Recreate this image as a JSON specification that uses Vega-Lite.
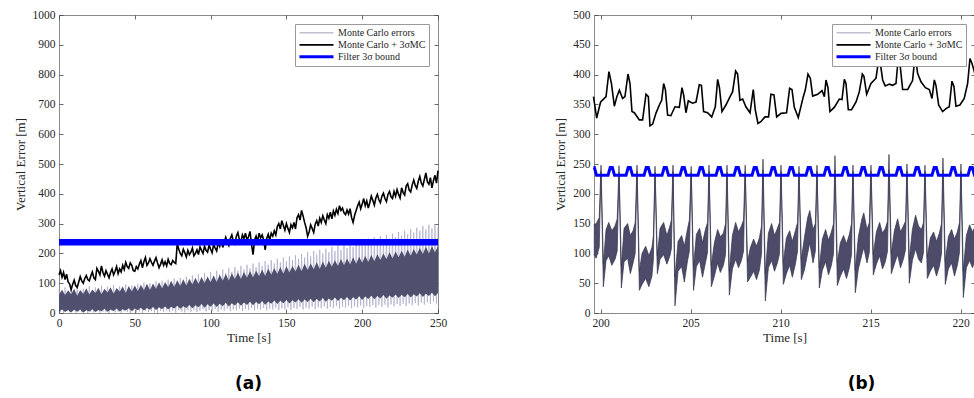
{
"$schema": "https://vega.github.io/schema/vega-lite/v6.json",
"background": "white",
"padding": {"left": 13, "top": 8, "right": 0, "bottom": 0},
"spacing": 156,
"bounds": "flush",
"resolve": {"scale": {"color": "independent", "strokeWidth": "independent"}, "legend": {"color": "independent", "strokeWidth": "independent"}},
"config": {
  "font": "Liberation Serif",
  "view": {"stroke": "#8a8a8a", "strokeWidth": 1},
  "axis": {"grid": false, "domain": false, "ticks": true, "tickSize": -4, "tickColor": "#444444", "tickWidth": 0.8, "labelPadding": 8, "labelFont": "Liberation Serif", "labelFontSize": 11.5, "labelColor": "#262626", "labelFlush": false, "labelOverlap": false, "format": "d", "titleFont": "Liberation Serif", "titleFontSize": 13, "titleFontWeight": "normal", "titleColor": "#262626"},
  "legend": {"orient": "top-right", "offset": 9, "symbolType": "stroke", "symbolSize": 1156, "clipHeight": 11.7, "rowPadding": 0, "padding": 3, "labelFont": "Liberation Serif", "labelFontSize": 10, "labelColor": "#262626", "labelOffset": 3, "fillColor": "white", "strokeColor": "#9a9a9a"},
  "line": {"clip": true},
  "area": {"clip": true}
},
"datasets": {
  "lav": [
{"t":0,"v":80},{"t":1,"v":4},{"t":2,"v":74},{"t":3,"v":0},{"t":4,"v":86},{"t":5,"v":6},{"t":6,"v":70},{"t":7,"v":2},{"t":8,"v":84},{"t":9,"v":8},
{"t":10,"v":76},{"t":11,"v":1},{"t":12,"v":88},{"t":13,"v":5},{"t":14,"v":72},{"t":15,"v":3},{"t":16,"v":82},{"t":17,"v":7},{"t":18,"v":78},{"t":19,"v":0},
{"t":20,"v":90},{"t":21,"v":4},{"t":22,"v":74},{"t":23,"v":2},{"t":24,"v":86},{"t":25,"v":6},{"t":26,"v":80},{"t":27,"v":1},{"t":28,"v":92},{"t":29,"v":5},
{"t":30,"v":78},{"t":31,"v":3},{"t":32,"v":88},{"t":33,"v":0},{"t":34,"v":82},{"t":35,"v":7},{"t":36,"v":94},{"t":37,"v":2},{"t":38,"v":76},{"t":39,"v":5},
{"t":40,"v":90},{"t":41,"v":1},{"t":42,"v":84},{"t":43,"v":6},{"t":44,"v":96},{"t":45,"v":3},{"t":46,"v":80},{"t":47,"v":0},{"t":48,"v":92},{"t":49,"v":8},
{"t":50,"v":86},{"t":51,"v":2},{"t":52,"v":98},{"t":53,"v":5},{"t":54,"v":88},{"t":55,"v":1},{"t":56,"v":102},{"t":57,"v":7},{"t":58,"v":84},{"t":59,"v":3},
{"t":60,"v":100},{"t":61,"v":6},{"t":62,"v":92},{"t":63,"v":2},{"t":64,"v":106},{"t":65,"v":0},{"t":66,"v":96},{"t":67,"v":8},{"t":68,"v":108},{"t":69,"v":4},
{"t":70,"v":94},{"t":71,"v":9},{"t":72,"v":112},{"t":73,"v":3},{"t":74,"v":102},{"t":75,"v":7},{"t":76,"v":116},{"t":77,"v":1},{"t":78,"v":100},{"t":79,"v":10},
{"t":80,"v":118},{"t":81,"v":5},{"t":82,"v":106},{"t":83,"v":2},{"t":84,"v":122},{"t":85,"v":9},{"t":86,"v":110},{"t":87,"v":4},{"t":88,"v":126},{"t":89,"v":11},
{"t":90,"v":114},{"t":91,"v":3},{"t":92,"v":130},{"t":93,"v":8},{"t":94,"v":118},{"t":95,"v":12},{"t":96,"v":134},{"t":97,"v":5},{"t":98,"v":122},{"t":99,"v":10},
{"t":100,"v":138},{"t":101,"v":7},{"t":102,"v":124},{"t":103,"v":13},{"t":104,"v":142},{"t":105,"v":4},{"t":106,"v":130},{"t":107,"v":11},{"t":108,"v":146},{"t":109,"v":8},
{"t":110,"v":134},{"t":111,"v":14},{"t":112,"v":150},{"t":113,"v":6},{"t":114,"v":138},{"t":115,"v":12},{"t":116,"v":154},{"t":117,"v":9},{"t":118,"v":142},{"t":119,"v":15},
{"t":120,"v":158},{"t":121,"v":7},{"t":122,"v":146},{"t":123,"v":13},{"t":124,"v":162},{"t":125,"v":10},{"t":126,"v":150},{"t":127,"v":16},{"t":128,"v":166},{"t":129,"v":8},
{"t":130,"v":154},{"t":131,"v":14},{"t":132,"v":170},{"t":133,"v":11},{"t":134,"v":158},{"t":135,"v":17},{"t":136,"v":174},{"t":137,"v":9},{"t":138,"v":162},{"t":139,"v":15},
{"t":140,"v":178},{"t":141,"v":12},{"t":142,"v":166},{"t":143,"v":18},{"t":144,"v":182},{"t":145,"v":10},{"t":146,"v":170},{"t":147,"v":16},{"t":148,"v":186},{"t":149,"v":13},
{"t":150,"v":174},{"t":151,"v":19},{"t":152,"v":190},{"t":153,"v":11},{"t":154,"v":178},{"t":155,"v":17},{"t":156,"v":194},{"t":157,"v":14},{"t":158,"v":182},{"t":159,"v":20},
{"t":160,"v":198},{"t":161,"v":12},{"t":162,"v":186},{"t":163,"v":18},{"t":164,"v":204},{"t":165,"v":15},{"t":166,"v":190},{"t":167,"v":21},{"t":168,"v":208},{"t":169,"v":13},
{"t":170,"v":196},{"t":171,"v":19},{"t":172,"v":212},{"t":173,"v":16},{"t":174,"v":200},{"t":175,"v":22},{"t":176,"v":216},{"t":177,"v":14},{"t":178,"v":204},{"t":179,"v":20},
{"t":180,"v":222},{"t":181,"v":17},{"t":182,"v":208},{"t":183,"v":23},{"t":184,"v":226},{"t":185,"v":15},{"t":186,"v":212},{"t":187,"v":21},{"t":188,"v":232},{"t":189,"v":18},
{"t":190,"v":218},{"t":191,"v":24},{"t":192,"v":236},{"t":193,"v":16},{"t":194,"v":222},{"t":195,"v":22},{"t":196,"v":240},{"t":197,"v":19},{"t":198,"v":228},{"t":199,"v":25},
{"t":200,"v":244},{"t":201,"v":17},{"t":202,"v":232},{"t":203,"v":23},{"t":204,"v":250},{"t":205,"v":20},{"t":206,"v":236},{"t":207,"v":26},{"t":208,"v":254},{"t":209,"v":18},
{"t":210,"v":240},{"t":211,"v":27},{"t":212,"v":258},{"t":213,"v":21},{"t":214,"v":246},{"t":215,"v":28},{"t":216,"v":262},{"t":217,"v":19},{"t":218,"v":250},{"t":219,"v":29},
{"t":220,"v":266},{"t":221,"v":22},{"t":222,"v":254},{"t":223,"v":30},{"t":224,"v":272},{"t":225,"v":24},{"t":226,"v":260},{"t":227,"v":31},{"t":228,"v":276},{"t":229,"v":23},
{"t":230,"v":264},{"t":231,"v":32},{"t":232,"v":282},{"t":233,"v":26},{"t":234,"v":270},{"t":235,"v":34},{"t":236,"v":286},{"t":237,"v":25},{"t":238,"v":276},{"t":239,"v":35},
{"t":240,"v":292},{"t":241,"v":28},{"t":242,"v":280},{"t":243,"v":36},{"t":244,"v":296},{"t":245,"v":30},{"t":246,"v":284},{"t":247,"v":38},{"t":248,"v":298},{"t":249,"v":32},
{"t":250,"v":288}
  ],
  "core": [
{"t":0,"lo":6,"hi":62},{"t":2,"lo":12,"hi":78},{"t":4,"lo":3,"hi":60},{"t":6,"lo":10,"hi":76},{"t":8,"lo":2,"hi":63},
{"t":10,"lo":11,"hi":81},{"t":12,"lo":4,"hi":58},{"t":14,"lo":12,"hi":77},{"t":16,"lo":1,"hi":64},{"t":18,"lo":9,"hi":83},
{"t":20,"lo":5,"hi":62},{"t":22,"lo":13,"hi":79},{"t":24,"lo":3,"hi":67},{"t":26,"lo":10,"hi":85},{"t":28,"lo":6,"hi":63},
{"t":30,"lo":14,"hi":81},{"t":32,"lo":4,"hi":69},{"t":34,"lo":12,"hi":86},{"t":36,"lo":7,"hi":65},{"t":38,"lo":15,"hi":84},
{"t":40,"lo":5,"hi":71},{"t":42,"lo":13,"hi":89},{"t":44,"lo":8,"hi":67},{"t":46,"lo":16,"hi":91},{"t":48,"lo":6,"hi":72},
{"t":50,"lo":15,"hi":92},{"t":52,"lo":9,"hi":73},{"t":54,"lo":18,"hi":95},{"t":56,"lo":8,"hi":76},{"t":58,"lo":17,"hi":98},
{"t":60,"lo":11,"hi":77},{"t":62,"lo":20,"hi":99},{"t":64,"lo":10,"hi":81},{"t":66,"lo":19,"hi":103},{"t":68,"lo":13,"hi":82},
{"t":70,"lo":22,"hi":104},{"t":72,"lo":12,"hi":86},{"t":74,"lo":21,"hi":108},{"t":76,"lo":15,"hi":87},{"t":78,"lo":24,"hi":110},
{"t":80,"lo":14,"hi":91},{"t":82,"lo":23,"hi":113},{"t":84,"lo":17,"hi":92},{"t":86,"lo":27,"hi":115},{"t":88,"lo":16,"hi":96},
{"t":90,"lo":26,"hi":118},{"t":92,"lo":19,"hi":97},{"t":94,"lo":30,"hi":121},{"t":96,"lo":18,"hi":101},{"t":98,"lo":29,"hi":122},
{"t":100,"lo":21,"hi":103},{"t":102,"lo":32,"hi":126},{"t":104,"lo":20,"hi":104},{"t":106,"lo":31,"hi":128},{"t":108,"lo":23,"hi":108},
{"t":110,"lo":34,"hi":131},{"t":112,"lo":22,"hi":109},{"t":114,"lo":33,"hi":133},{"t":116,"lo":25,"hi":113},{"t":118,"lo":36,"hi":136},
{"t":120,"lo":24,"hi":114},{"t":122,"lo":35,"hi":138},{"t":124,"lo":27,"hi":118},{"t":126,"lo":38,"hi":141},{"t":128,"lo":26,"hi":119},
{"t":130,"lo":37,"hi":143},{"t":132,"lo":29,"hi":123},{"t":134,"lo":40,"hi":146},{"t":136,"lo":28,"hi":124},{"t":138,"lo":39,"hi":149},
{"t":140,"lo":31,"hi":128},{"t":142,"lo":42,"hi":151},{"t":144,"lo":30,"hi":131},{"t":146,"lo":41,"hi":154},{"t":148,"lo":33,"hi":132},
{"t":150,"lo":44,"hi":157},{"t":152,"lo":32,"hi":136},{"t":154,"lo":43,"hi":158},{"t":156,"lo":35,"hi":139},{"t":158,"lo":46,"hi":162},
{"t":160,"lo":34,"hi":140},{"t":162,"lo":45,"hi":165},{"t":164,"lo":37,"hi":144},{"t":166,"lo":48,"hi":166},{"t":168,"lo":36,"hi":147},
{"t":170,"lo":47,"hi":170},{"t":172,"lo":39,"hi":148},{"t":174,"lo":50,"hi":173},{"t":176,"lo":38,"hi":152},{"t":178,"lo":49,"hi":175},
{"t":180,"lo":41,"hi":155},{"t":182,"lo":52,"hi":177},{"t":184,"lo":40,"hi":158},{"t":186,"lo":51,"hi":181},{"t":188,"lo":43,"hi":160},
{"t":190,"lo":54,"hi":183},{"t":192,"lo":42,"hi":163},{"t":194,"lo":53,"hi":187},{"t":196,"lo":45,"hi":165},{"t":198,"lo":56,"hi":189},
{"t":200,"lo":44,"hi":169},{"t":202,"lo":55,"hi":191},{"t":204,"lo":47,"hi":171},{"t":206,"lo":58,"hi":195},{"t":208,"lo":46,"hi":174},
{"t":210,"lo":57,"hi":197},{"t":212,"lo":49,"hi":178},{"t":214,"lo":60,"hi":200},{"t":216,"lo":48,"hi":180},{"t":218,"lo":59,"hi":204},
{"t":220,"lo":51,"hi":183},{"t":222,"lo":62,"hi":206},{"t":224,"lo":50,"hi":187},{"t":226,"lo":61,"hi":209},{"t":228,"lo":53,"hi":189},
{"t":230,"lo":64,"hi":213},{"t":232,"lo":52,"hi":192},{"t":234,"lo":63,"hi":215},{"t":236,"lo":55,"hi":196},{"t":238,"lo":66,"hi":218},
{"t":240,"lo":54,"hi":198},{"t":242,"lo":65,"hi":222},{"t":244,"lo":57,"hi":200},{"t":246,"lo":68,"hi":224},{"t":248,"lo":56,"hi":203},
{"t":250,"lo":67,"hi":226}
  ],
  "blackA": [
{"t":0,"v":128},{"t":1,"v":142},{"t":2,"v":120},{"t":3,"v":136},{"t":4,"v":112},{"t":5,"v":130},{"t":6,"v":104},{"t":7,"v":98},{"t":8,"v":78},{"t":9,"v":96},
{"t":10,"v":110},{"t":11,"v":92},{"t":12,"v":86},{"t":13,"v":104},{"t":14,"v":122},{"t":15,"v":108},{"t":16,"v":100},{"t":17,"v":116},{"t":18,"v":126},{"t":19,"v":112},
{"t":20,"v":108},{"t":21,"v":124},{"t":22,"v":138},{"t":23,"v":118},{"t":24,"v":112},{"t":25,"v":150},{"t":26,"v":140},{"t":27,"v":128},{"t":28,"v":158},{"t":29,"v":136},
{"t":30,"v":124},{"t":31,"v":142},{"t":32,"v":130},{"t":33,"v":118},{"t":34,"v":136},{"t":35,"v":148},{"t":36,"v":128},{"t":37,"v":140},{"t":38,"v":156},{"t":39,"v":132},
{"t":40,"v":148},{"t":41,"v":138},{"t":42,"v":160},{"t":43,"v":146},{"t":44,"v":170},{"t":45,"v":156},{"t":46,"v":150},{"t":47,"v":168},{"t":48,"v":160},{"t":49,"v":142},
{"t":50,"v":140},{"t":51,"v":156},{"t":52,"v":148},{"t":53,"v":164},{"t":54,"v":176},{"t":55,"v":152},{"t":56,"v":172},{"t":57,"v":186},{"t":58,"v":160},{"t":59,"v":168},
{"t":60,"v":182},{"t":61,"v":170},{"t":62,"v":160},{"t":63,"v":174},{"t":64,"v":186},{"t":65,"v":168},{"t":66,"v":152},{"t":67,"v":164},{"t":68,"v":178},{"t":69,"v":160},
{"t":70,"v":172},{"t":71,"v":158},{"t":72,"v":180},{"t":73,"v":166},{"t":74,"v":162},{"t":75,"v":176},{"t":76,"v":170},{"t":77,"v":166},{"t":78,"v":232},{"t":79,"v":214},
{"t":80,"v":200},{"t":81,"v":192},{"t":82,"v":214},{"t":83,"v":202},{"t":84,"v":188},{"t":85,"v":210},{"t":86,"v":196},{"t":87,"v":204},{"t":88,"v":218},{"t":89,"v":192},
{"t":90,"v":200},{"t":91,"v":212},{"t":92,"v":196},{"t":93,"v":222},{"t":94,"v":210},{"t":95,"v":200},{"t":96,"v":224},{"t":97,"v":210},{"t":98,"v":204},{"t":99,"v":228},
{"t":100,"v":214},{"t":101,"v":202},{"t":102,"v":230},{"t":103,"v":218},{"t":104,"v":208},{"t":105,"v":236},{"t":106,"v":224},{"t":107,"v":248},{"t":108,"v":220},{"t":109,"v":238},
{"t":110,"v":254},{"t":111,"v":236},{"t":112,"v":226},{"t":113,"v":250},{"t":114,"v":262},{"t":115,"v":240},{"t":116,"v":232},{"t":117,"v":258},{"t":118,"v":270},{"t":119,"v":246},
{"t":120,"v":240},{"t":121,"v":262},{"t":122,"v":250},{"t":123,"v":268},{"t":124,"v":244},{"t":125,"v":256},{"t":126,"v":274},{"t":127,"v":230},{"t":128,"v":196},{"t":129,"v":244},
{"t":130,"v":258},{"t":131,"v":240},{"t":132,"v":268},{"t":133,"v":252},{"t":134,"v":262},{"t":135,"v":246},{"t":136,"v":212},{"t":137,"v":250},{"t":138,"v":264},{"t":139,"v":244},
{"t":140,"v":268},{"t":141,"v":258},{"t":142,"v":276},{"t":143,"v":262},{"t":144,"v":290},{"t":145,"v":300},{"t":146,"v":282},{"t":147,"v":310},{"t":148,"v":294},{"t":149,"v":278},
{"t":150,"v":300},{"t":151,"v":284},{"t":152,"v":270},{"t":153,"v":296},{"t":154,"v":286},{"t":155,"v":304},{"t":156,"v":282},{"t":157,"v":320},{"t":158,"v":330},{"t":159,"v":312},
{"t":160,"v":344},{"t":161,"v":326},{"t":162,"v":304},{"t":163,"v":286},{"t":164,"v":258},{"t":165,"v":272},{"t":166,"v":296},{"t":167,"v":284},{"t":168,"v":270},{"t":169,"v":298},
{"t":170,"v":310},{"t":171,"v":292},{"t":172,"v":318},{"t":173,"v":304},{"t":174,"v":326},{"t":175,"v":312},{"t":176,"v":300},{"t":177,"v":330},{"t":178,"v":318},{"t":179,"v":338},
{"t":180,"v":316},{"t":181,"v":342},{"t":182,"v":328},{"t":183,"v":348},{"t":184,"v":334},{"t":185,"v":360},{"t":186,"v":344},{"t":187,"v":352},{"t":188,"v":336},{"t":189,"v":330},
{"t":190,"v":346},{"t":191,"v":332},{"t":192,"v":350},{"t":193,"v":320},{"t":194,"v":304},{"t":195,"v":328},{"t":196,"v":344},{"t":197,"v":360},{"t":198,"v":372},{"t":199,"v":350},
{"t":200,"v":366},{"t":201,"v":384},{"t":202,"v":360},{"t":203,"v":376},{"t":204,"v":352},{"t":205,"v":370},{"t":206,"v":392},{"t":207,"v":378},{"t":208,"v":362},{"t":209,"v":386},
{"t":210,"v":398},{"t":211,"v":380},{"t":212,"v":370},{"t":213,"v":392},{"t":214,"v":402},{"t":215,"v":384},{"t":216,"v":374},{"t":217,"v":398},{"t":218,"v":408},{"t":219,"v":390},
{"t":220,"v":384},{"t":221,"v":408},{"t":222,"v":392},{"t":223,"v":414},{"t":224,"v":398},{"t":225,"v":386},{"t":226,"v":420},{"t":227,"v":404},{"t":228,"v":396},{"t":229,"v":426},
{"t":230,"v":434},{"t":231,"v":412},{"t":232,"v":406},{"t":233,"v":430},{"t":234,"v":446},{"t":235,"v":428},{"t":236,"v":418},{"t":237,"v":442},{"t":238,"v":458},{"t":239,"v":436},
{"t":240,"v":426},{"t":241,"v":448},{"t":242,"v":470},{"t":243,"v":440},{"t":244,"v":432},{"t":245,"v":454},{"t":246,"v":420},{"t":247,"v":444},{"t":248,"v":462},{"t":249,"v":436},
{"t":250,"v":478}
  ],
  "blueA": [{"t":0,"v":237},{"t":250,"v":237}],
  "bandB": [
{"t":199.62,"lo":98,"hi":148},{"t":199.75,"lo":92,"hi":150},{"t":199.92,"lo":110,"hi":160},
{"t":200.02,"lo":238,"hi":248},{"t":200.15,"lo":44,"hi":82},{"t":200.3,"lo":88,"hi":140},{"t":200.45,"lo":96,"hi":152},{"t":200.62,"lo":80,"hi":138},{"t":200.8,"lo":90,"hi":146},{"t":200.92,"lo":104,"hi":158},
{"t":201.02,"lo":236,"hi":247},{"t":201.15,"lo":42,"hi":78},{"t":201.3,"lo":86,"hi":142},{"t":201.5,"lo":92,"hi":150},{"t":201.65,"lo":66,"hi":130},{"t":201.8,"lo":84,"hi":138},{"t":201.92,"lo":100,"hi":152},
{"t":202.02,"lo":238,"hi":248},{"t":202.15,"lo":38,"hi":70},{"t":202.3,"lo":48,"hi":100},{"t":202.5,"lo":58,"hi":112},{"t":202.68,"lo":44,"hi":96},{"t":202.85,"lo":62,"hi":110},{"t":202.93,"lo":90,"hi":130},
{"t":203.02,"lo":236,"hi":246},{"t":203.15,"lo":66,"hi":96},{"t":203.3,"lo":90,"hi":142},{"t":203.5,"lo":98,"hi":152},{"t":203.68,"lo":82,"hi":130},{"t":203.85,"lo":96,"hi":146},{"t":203.93,"lo":108,"hi":156},
{"t":204.02,"lo":238,"hi":248},{"t":204.13,"lo":12,"hi":60},{"t":204.3,"lo":70,"hi":120},{"t":204.5,"lo":78,"hi":130},{"t":204.65,"lo":52,"hi":112},{"t":204.82,"lo":86,"hi":140},{"t":204.93,"lo":104,"hi":156},
{"t":205.03,"lo":236,"hi":246},{"t":205.16,"lo":38,"hi":78},{"t":205.32,"lo":78,"hi":132},{"t":205.5,"lo":88,"hi":142},{"t":205.66,"lo":60,"hi":118},{"t":205.82,"lo":84,"hi":140},{"t":205.94,"lo":102,"hi":152},
{"t":206.02,"lo":238,"hi":248},{"t":206.15,"lo":44,"hi":80},{"t":206.32,"lo":62,"hi":118},{"t":206.5,"lo":84,"hi":140},{"t":206.65,"lo":68,"hi":128},{"t":206.82,"lo":80,"hi":134},{"t":206.94,"lo":98,"hi":150},
{"t":207.02,"lo":236,"hi":248},{"t":207.15,"lo":30,"hi":70},{"t":207.32,"lo":74,"hi":130},{"t":207.5,"lo":90,"hi":152},{"t":207.66,"lo":76,"hi":136},{"t":207.82,"lo":88,"hi":146},{"t":207.94,"lo":104,"hi":156},
{"t":208.03,"lo":238,"hi":248},{"t":208.16,"lo":52,"hi":86},{"t":208.32,"lo":60,"hi":110},{"t":208.5,"lo":70,"hi":124},{"t":208.66,"lo":56,"hi":112},{"t":208.82,"lo":72,"hi":126},{"t":208.94,"lo":100,"hi":146},
{"t":209.02,"lo":240,"hi":258},{"t":209.15,"lo":20,"hi":66},{"t":209.32,"lo":76,"hi":134},{"t":209.5,"lo":88,"hi":150},{"t":209.66,"lo":70,"hi":130},{"t":209.82,"lo":84,"hi":142},{"t":209.94,"lo":100,"hi":152},
{"t":210.02,"lo":238,"hi":248},{"t":210.15,"lo":48,"hi":84},{"t":210.32,"lo":66,"hi":126},{"t":210.5,"lo":80,"hi":138},{"t":210.65,"lo":60,"hi":120},{"t":210.82,"lo":82,"hi":138},{"t":210.94,"lo":104,"hi":152},
{"t":211.02,"lo":236,"hi":246},{"t":211.15,"lo":56,"hi":90},{"t":211.32,"lo":72,"hi":126},{"t":211.5,"lo":100,"hi":160},{"t":211.62,"lo":118,"hi":172},{"t":211.8,"lo":84,"hi":140},{"t":211.93,"lo":104,"hi":150},
{"t":212.02,"lo":238,"hi":248},{"t":212.15,"lo":42,"hi":76},{"t":212.32,"lo":72,"hi":124},{"t":212.5,"lo":86,"hi":140},{"t":212.66,"lo":64,"hi":122},{"t":212.82,"lo":80,"hi":136},{"t":212.94,"lo":100,"hi":150},
{"t":213.02,"lo":240,"hi":264},{"t":213.15,"lo":46,"hi":84},{"t":213.32,"lo":62,"hi":118},{"t":213.5,"lo":74,"hi":130},{"t":213.66,"lo":58,"hi":116},{"t":213.82,"lo":76,"hi":132},{"t":213.94,"lo":98,"hi":150},
{"t":214.02,"lo":238,"hi":248},{"t":214.15,"lo":34,"hi":72},{"t":214.32,"lo":74,"hi":128},{"t":214.5,"lo":96,"hi":156},{"t":214.62,"lo":110,"hi":168},{"t":214.8,"lo":84,"hi":140},{"t":214.93,"lo":102,"hi":152},
{"t":215.02,"lo":238,"hi":248},{"t":215.15,"lo":64,"hi":98},{"t":215.32,"lo":82,"hi":136},{"t":215.5,"lo":96,"hi":152},{"t":215.66,"lo":74,"hi":134},{"t":215.82,"lo":86,"hi":142},{"t":215.94,"lo":104,"hi":154},
{"t":216.02,"lo":240,"hi":266},{"t":216.15,"lo":66,"hi":100},{"t":216.32,"lo":82,"hi":138},{"t":216.5,"lo":98,"hi":158},{"t":216.66,"lo":76,"hi":136},{"t":216.82,"lo":90,"hi":146},{"t":216.94,"lo":106,"hi":154},
{"t":217.02,"lo":238,"hi":250},{"t":217.15,"lo":50,"hi":90},{"t":217.32,"lo":88,"hi":140},{"t":217.5,"lo":108,"hi":164},{"t":217.66,"lo":90,"hi":146},{"t":217.82,"lo":84,"hi":140},{"t":217.94,"lo":102,"hi":152},
{"t":218.02,"lo":238,"hi":248},{"t":218.15,"lo":58,"hi":94},{"t":218.32,"lo":70,"hi":126},{"t":218.5,"lo":80,"hi":136},{"t":218.66,"lo":62,"hi":120},{"t":218.82,"lo":78,"hi":134},{"t":218.94,"lo":100,"hi":150},
{"t":219.02,"lo":240,"hi":260},{"t":219.15,"lo":48,"hi":86},{"t":219.32,"lo":74,"hi":128},{"t":219.5,"lo":84,"hi":140},{"t":219.66,"lo":62,"hi":124},{"t":219.82,"lo":80,"hi":136},{"t":219.94,"lo":102,"hi":152},
{"t":220.02,"lo":238,"hi":250},{"t":220.15,"lo":26,"hi":70},{"t":220.32,"lo":76,"hi":130},{"t":220.5,"lo":88,"hi":148},{"t":220.66,"lo":76,"hi":136},{"t":220.82,"lo":90,"hi":146}
  ],
  "blackB": [
{"t":199.6,"v":363},{"t":199.78,"v":327},{"t":199.93,"v":346},{"t":200.0,"v":354},{"t":200.3,"v":363},{"t":200.46,"v":405},{"t":200.6,"v":385},{"t":200.76,"v":347},{"t":200.9,"v":363},
{"t":201.04,"v":374},{"t":201.22,"v":360},{"t":201.35,"v":363},{"t":201.52,"v":401},{"t":201.63,"v":385},{"t":201.74,"v":338},{"t":201.87,"v":336},{"t":202.15,"v":324},{"t":202.33,"v":324},
{"t":202.52,"v":367},{"t":202.65,"v":363},{"t":202.74,"v":314},{"t":202.89,"v":317},{"t":203.07,"v":335},{"t":203.26,"v":349},{"t":203.39,"v":357},{"t":203.5,"v":385},{"t":203.6,"v":374},
{"t":203.72,"v":332},{"t":203.9,"v":331},{"t":204.13,"v":346},{"t":204.37,"v":345},{"t":204.52,"v":378},{"t":204.61,"v":366},{"t":204.74,"v":336},{"t":204.87,"v":356},{"t":205.1,"v":352},
{"t":205.3,"v":354},{"t":205.48,"v":383},{"t":205.6,"v":382},{"t":205.72,"v":338},{"t":205.94,"v":336},{"t":206.17,"v":329},{"t":206.37,"v":346},{"t":206.5,"v":392},{"t":206.6,"v":378},
{"t":206.74,"v":338},{"t":206.96,"v":349},{"t":207.19,"v":363},{"t":207.33,"v":371},{"t":207.5,"v":406},{"t":207.61,"v":401},{"t":207.74,"v":357},{"t":207.89,"v":359},{"t":208.07,"v":346},
{"t":208.3,"v":336},{"t":208.48,"v":375},{"t":208.59,"v":341},{"t":208.74,"v":318},{"t":208.9,"v":321},{"t":209.13,"v":329},{"t":209.33,"v":329},{"t":209.46,"v":367},{"t":209.63,"v":366},
{"t":209.78,"v":329},{"t":210.02,"v":335},{"t":210.33,"v":336},{"t":210.5,"v":377},{"t":210.63,"v":375},{"t":210.76,"v":345},{"t":210.98,"v":328},{"t":211.26,"v":363},{"t":211.37,"v":374},
{"t":211.52,"v":401},{"t":211.65,"v":394},{"t":211.78,"v":364},{"t":212.06,"v":367},{"t":212.3,"v":373},{"t":212.43,"v":363},{"t":212.52,"v":391},{"t":212.63,"v":378},{"t":212.74,"v":338},
{"t":212.98,"v":345},{"t":213.26,"v":359},{"t":213.41,"v":358},{"t":213.54,"v":392},{"t":213.63,"v":385},{"t":213.76,"v":341},{"t":213.94,"v":341},{"t":214.19,"v":354},{"t":214.37,"v":371},
{"t":214.54,"v":401},{"t":214.63,"v":397},{"t":214.78,"v":367},{"t":215.02,"v":385},{"t":215.3,"v":394},{"t":215.48,"v":432},{"t":215.67,"v":391},{"t":215.81,"v":381},{"t":216.04,"v":384},
{"t":216.22,"v":382},{"t":216.41,"v":385},{"t":216.54,"v":430},{"t":216.65,"v":413},{"t":216.78,"v":375},{"t":217.06,"v":375},{"t":217.33,"v":390},{"t":217.48,"v":435},{"t":217.61,"v":402},
{"t":217.8,"v":388},{"t":218.04,"v":378},{"t":218.26,"v":375},{"t":218.41,"v":360},{"t":218.54,"v":391},{"t":218.63,"v":382},{"t":218.78,"v":349},{"t":219.0,"v":338},{"t":219.19,"v":343},
{"t":219.37,"v":346},{"t":219.52,"v":389},{"t":219.63,"v":380},{"t":219.74,"v":347},{"t":219.96,"v":349},{"t":220.2,"v":360},{"t":220.39,"v":385},{"t":220.52,"v":427},{"t":220.63,"v":419},{"t":220.8,"v":401}
  ],
  "blueB": [
{"t":199.6,"v":244},{"t":199.65,"v":244},{"t":199.77,"v":231},
{"t":200.41,"v":231},{"t":200.53,"v":244},{"t":200.65,"v":244},{"t":200.77,"v":231},
{"t":201.41,"v":231},{"t":201.53,"v":244},{"t":201.65,"v":244},{"t":201.77,"v":231},
{"t":202.41,"v":231},{"t":202.53,"v":244},{"t":202.65,"v":244},{"t":202.77,"v":231},
{"t":203.41,"v":231},{"t":203.53,"v":244},{"t":203.65,"v":244},{"t":203.77,"v":231},
{"t":204.41,"v":231},{"t":204.53,"v":244},{"t":204.65,"v":244},{"t":204.77,"v":231},
{"t":205.41,"v":231},{"t":205.53,"v":244},{"t":205.65,"v":244},{"t":205.77,"v":231},
{"t":206.41,"v":231},{"t":206.53,"v":244},{"t":206.65,"v":244},{"t":206.77,"v":231},
{"t":207.41,"v":231},{"t":207.53,"v":244},{"t":207.65,"v":244},{"t":207.77,"v":231},
{"t":208.41,"v":231},{"t":208.53,"v":244},{"t":208.65,"v":244},{"t":208.77,"v":231},
{"t":209.41,"v":231},{"t":209.53,"v":244},{"t":209.65,"v":244},{"t":209.77,"v":231},
{"t":210.41,"v":231},{"t":210.53,"v":244},{"t":210.65,"v":244},{"t":210.77,"v":231},
{"t":211.41,"v":231},{"t":211.53,"v":244},{"t":211.65,"v":244},{"t":211.77,"v":231},
{"t":212.41,"v":231},{"t":212.53,"v":244},{"t":212.65,"v":244},{"t":212.77,"v":231},
{"t":213.41,"v":231},{"t":213.53,"v":244},{"t":213.65,"v":244},{"t":213.77,"v":231},
{"t":214.41,"v":231},{"t":214.53,"v":244},{"t":214.65,"v":244},{"t":214.77,"v":231},
{"t":215.41,"v":231},{"t":215.53,"v":244},{"t":215.65,"v":244},{"t":215.77,"v":231},
{"t":216.41,"v":231},{"t":216.53,"v":244},{"t":216.65,"v":244},{"t":216.77,"v":231},
{"t":217.41,"v":231},{"t":217.53,"v":244},{"t":217.65,"v":244},{"t":217.77,"v":231},
{"t":218.41,"v":231},{"t":218.53,"v":244},{"t":218.65,"v":244},{"t":218.77,"v":231},
{"t":219.41,"v":231},{"t":219.53,"v":244},{"t":219.65,"v":244},{"t":219.77,"v":231},
{"t":220.41,"v":231},{"t":220.53,"v":244},{"t":220.65,"v":244},{"t":220.77,"v":231},{"t":220.9,"v":231}
  ]
},
"hconcat": [
{
  "width": 379, "height": 298,
  "title": {"text": "(a)", "orient": "bottom", "anchor": "middle", "frame": "group", "font": "DejaVu Sans", "fontSize": 17, "fontWeight": "bold", "color": "#000000", "offset": 31},
  "resolve": {"axis": {"x": "independent", "y": "independent"}},
  "layer": [
    {"data": {"name": "lav"}, "mark": {"type": "line", "color": "#a9a9c8", "strokeWidth": 0.7},
     "encoding": {
       "x": {"field": "t", "type": "quantitative", "scale": {"domain": [0, 250], "nice": false}, "axis": {"title": "Time [s]", "values": [0, 50, 100, 150, 200, 250], "titlePadding": 3}},
       "y": {"field": "v", "type": "quantitative", "scale": {"domain": [0, 1000], "nice": false}, "axis": {"title": "Vertical Error [m]", "values": [0, 100, 200, 300, 400, 500, 600, 700, 800, 900, 1000], "titlePadding": 5}}
     }},
    {"data": {"name": "core"}, "mark": {"type": "area", "color": "#50506e"},
     "encoding": {
       "x": {"field": "t", "type": "quantitative", "axis": null},
       "y": {"field": "lo", "type": "quantitative", "axis": null},
       "y2": {"field": "hi"}
     }},
    {"data": {"name": "blackA"}, "mark": {"type": "line"},
     "encoding": {
       "x": {"field": "t", "type": "quantitative", "axis": null},
       "y": {"field": "v", "type": "quantitative", "axis": null},
       "color": {"datum": "Monte Carlo + 3σMC", "type": "nominal", "scale": {"domain": ["Monte Carlo errors", "Monte Carlo + 3σMC", "Filter 3σ bound"], "range": ["#8686a6", "#000000", "#0000ff"]}, "legend": {"title": null}},
       "strokeWidth": {"datum": "Monte Carlo + 3σMC", "type": "ordinal", "scale": {"type": "ordinal", "domain": ["Monte Carlo errors", "Monte Carlo + 3σMC", "Filter 3σ bound"], "range": [0.8, 1.6, 3]}, "legend": {"title": null}}
     }},
    {"data": {"name": "blueA"}, "mark": {"type": "line", "strokeWidth": 6.5},
     "encoding": {
       "x": {"field": "t", "type": "quantitative", "axis": {"orient": "top", "labels": false, "title": null, "values": [0, 50, 100, 150, 200, 250]}},
       "y": {"field": "v", "type": "quantitative", "axis": {"orient": "right", "labels": false, "title": null, "values": [0, 100, 200, 300, 400, 500, 600, 700, 800, 900, 1000]}},
       "color": {"datum": "Filter 3σ bound", "type": "nominal", "scale": {"domain": ["Monte Carlo errors", "Monte Carlo + 3σMC", "Filter 3σ bound"], "range": ["#8686a6", "#000000", "#0000ff"]}, "legend": {"title": null}}
     }}
  ]
},
{
  "width": 381, "height": 298,
  "title": {"text": "(b)", "orient": "bottom", "anchor": "middle", "frame": "group", "font": "DejaVu Sans", "fontSize": 17, "fontWeight": "bold", "color": "#000000", "offset": 31, "dx": 77},
  "resolve": {"axis": {"x": "independent", "y": "independent"}},
  "layer": [
    {"data": {"name": "bandB"}, "mark": {"type": "area", "color": "#4c4c6a"},
     "encoding": {
       "x": {"field": "t", "type": "quantitative", "scale": {"domain": [199.63, 220.8], "nice": false, "zero": false}, "axis": {"title": "Time [s]", "values": [200, 205, 210, 215, 220], "titlePadding": 3}},
       "y": {"field": "lo", "type": "quantitative", "scale": {"domain": [0, 500], "nice": false}, "axis": {"title": "Vertical Error [m]", "values": [0, 50, 100, 150, 200, 250, 300, 350, 400, 450, 500], "titlePadding": 5}},
       "y2": {"field": "hi"}
     }},
    {"data": {"name": "bandB"}, "mark": {"type": "line", "color": "#33334d", "strokeWidth": 0.7},
     "encoding": {
       "x": {"field": "t", "type": "quantitative", "axis": null},
       "y": {"field": "hi", "type": "quantitative", "axis": null}
     }},
    {"data": {"name": "bandB"}, "mark": {"type": "line", "color": "#33334d", "strokeWidth": 0.7},
     "encoding": {
       "x": {"field": "t", "type": "quantitative", "axis": null},
       "y": {"field": "lo", "type": "quantitative", "axis": null}
     }},
    {"data": {"name": "blackB"}, "mark": {"type": "line"},
     "encoding": {
       "x": {"field": "t", "type": "quantitative", "axis": null},
       "y": {"field": "v", "type": "quantitative", "axis": null},
       "color": {"datum": "Monte Carlo + 3σMC", "type": "nominal", "scale": {"domain": ["Monte Carlo errors", "Monte Carlo + 3σMC", "Filter 3σ bound"], "range": ["#8686a6", "#000000", "#0000ff"]}, "legend": {"title": null}},
       "strokeWidth": {"datum": "Monte Carlo + 3σMC", "type": "ordinal", "scale": {"type": "ordinal", "domain": ["Monte Carlo errors", "Monte Carlo + 3σMC", "Filter 3σ bound"], "range": [0.8, 1.6, 3]}, "legend": {"title": null}}
     }},
    {"data": {"name": "blueB"}, "mark": {"type": "line"},
     "encoding": {
       "x": {"field": "t", "type": "quantitative", "axis": {"orient": "top", "labels": false, "title": null, "values": [200, 205, 210, 215, 220]}},
       "y": {"field": "v", "type": "quantitative", "axis": {"orient": "right", "labels": false, "title": null, "values": [0, 50, 100, 150, 200, 250, 300, 350, 400, 450, 500]}},
       "color": {"datum": "Filter 3σ bound", "type": "nominal", "scale": {"domain": ["Monte Carlo errors", "Monte Carlo + 3σMC", "Filter 3σ bound"], "range": ["#8686a6", "#000000", "#0000ff"]}, "legend": {"title": null}},
       "strokeWidth": {"datum": "Filter 3σ bound", "type": "ordinal", "scale": {"type": "ordinal", "domain": ["Monte Carlo errors", "Monte Carlo + 3σMC", "Filter 3σ bound"], "range": [0.8, 1.6, 3]}, "legend": {"title": null}}
     }}
  ]
}
]
}
